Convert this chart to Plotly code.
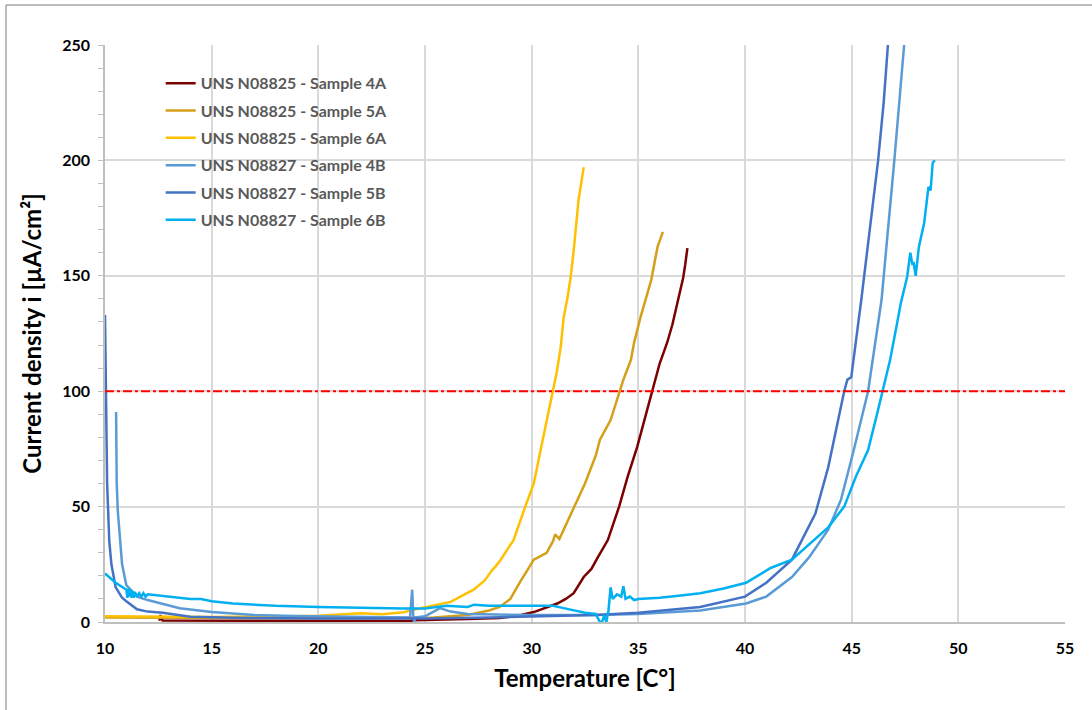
import plotly.graph_objects as go

# ---------------- data ----------------
names = ["UNS N08825 - Sample 4A", "UNS N08825 - Sample 5A", "UNS N08825 - Sample 6A",
         "UNS N08827 - Sample 4B", "UNS N08827 - Sample 5B", "UNS N08827 - Sample 6B"]
colors = ["#7B0000", "#D4A017", "#FFC000", "#5B9BD5", "#4472C4", "#00B0F0"]

t_4a = [12.55, 12.6, 12.7, 15, 18, 21.7, 24.3, 24.5, 25.9, 27, 28.5, 29.5, 30.1, 30.6, 31.2, 31.6,
        31.97, 32.44, 32.8, 33.1, 33.57, 34.1, 34.5, 34.95, 35.4, 35.65, 36.0, 36.35, 36.6, 36.86,
        37.1, 37.2, 37.3]
i_4a = [0.5, 3, 0.6, 0.6, 0.5, 0.4, 0.4, 0.8, 1, 1.3, 1.7, 3, 4.3, 6, 8, 10,
        12.5, 19.5, 23, 28, 35.5, 50, 63, 76, 92, 100, 112, 121, 129, 140,
        149, 155, 162]

t_5a = [10, 15, 20, 25.4, 27, 28, 28.5, 29, 29.15, 29.5, 29.8, 30.1, 30.5, 30.7, 31, 31.1, 31.3,
        31.5, 32, 32.5, 33, 33.2, 33.7, 34.1, 34.3, 34.65, 34.8, 35.1, 35.45, 35.6, 35.9, 36.15]
i_5a = [2, 1.8, 1.6, 2, 3, 5, 6.5, 10, 12.5, 18, 22.5, 27, 29, 30, 35, 38, 36,
        40, 50, 60, 72, 79, 87.5, 99, 105, 113.5, 121, 132, 142.5, 148, 162.5, 169]

t_6a = [10, 12, 15, 18, 20, 21, 22, 23, 24, 24.8, 26.2, 27.28, 27.8, 28.15, 28.3, 28.55, 29.15,
        29.7, 30.1, 30.42, 30.75, 30.98, 31.17, 31.36, 31.5, 31.69, 31.83, 31.97, 32.06, 32.2, 32.44]
i_6a = [2.5, 2.3, 2.2, 2.4, 2.7, 3.2, 3.8, 3.4, 4.2, 6, 8.7, 14, 18, 22.5, 24, 27, 35.5,
        50, 60, 74.5, 89, 100.5, 108, 119, 132, 141, 149.5, 161, 171, 183, 197]

t_4b = [10.52, 10.55, 10.6, 10.7, 10.8, 11.0, 11.5, 12, 12.7, 13.5, 15, 17, 18.9, 22, 24.3, 24.4,
        24.45, 24.5, 24.55, 25, 25.7, 26.2, 27, 30, 33, 35, 37.9, 40.05, 41, 42.2, 43, 43.9,
        44.5, 45.1, 45.77, 46.4, 47.0, 47.46]
i_4b = [91, 60, 48, 35, 25, 16, 11, 9.5, 8, 6, 4.3, 3, 2.6, 2.2, 2, 14,
        2, 0, 2, 2.5, 6, 4.5, 3.5, 3, 3, 3.5, 5, 8, 11, 19.5, 28, 40,
        53, 74.5, 100, 139.5, 200, 250]

t_5b = [10, 10.05, 10.1, 10.2, 10.3, 10.5, 10.8, 11, 11.5, 12, 12.7, 14, 16, 20, 25, 28, 30, 33,
        35, 37.9, 40, 41, 42.2, 43.3, 43.9, 44.3, 44.65, 44.8, 44.98, 45.45, 45.9, 46.24, 46.5, 46.7]
i_5b = [133, 90, 60, 35, 25, 15, 10.5, 9, 5.5, 4.5, 4, 2.3, 1.8, 1.5, 1.5, 2, 2.5, 3,
        4, 6.5, 11, 17, 27, 47, 67, 85, 100, 105, 106, 139.5, 175, 200, 225, 250]

t_6b = [10, 10.5, 11.0, 11.05, 11.1, 11.15, 11.2, 11.25, 11.3, 11.35, 11.4, 11.5, 11.6, 11.7,
        11.8, 11.9, 12.0, 13, 14, 14.5, 15, 16, 17, 18, 20, 22, 24, 25, 25.5, 26, 27, 27.3, 28,
        30, 31, 31.5, 32, 32.5, 33, 33.2, 33.3, 33.4, 33.5, 33.6, 33.7, 33.8, 34, 34.2, 34.3,
        34.4, 34.6, 34.8, 35, 36, 37, 37.9, 39, 40.05, 41.2, 42.2, 43.9, 44.65, 45.2, 45.77,
        46.2, 46.5, 46.8, 47.1, 47.3, 47.6, 47.75, 47.85, 47.9, 48.0, 48.15, 48.4, 48.6, 48.7,
        48.8, 48.9]
i_6b = [21, 17, 14, 10.5, 14.5, 11, 14, 10.5, 13.5, 10.5, 13, 11, 12.5, 11,
        12.5, 11, 12, 11, 10, 10, 9, 8, 7.5, 7, 6.5, 6, 5.8, 5.8, 6.5, 7, 6.5, 7.5, 7,
        7, 7, 6, 5, 4, 3.5, 0, 0, 3, 0, 5, 15, 10, 12, 11, 15.5,
        10, 11, 9.5, 10, 10.5, 11.5, 12.5, 14.5, 17, 23.4, 27, 41, 50, 63, 74.5,
        90.5, 102, 113.5, 128, 138, 149.5, 160, 154.7, 156, 150, 162.5, 173, 188.5, 187,
        199, 200]

series_t = [t_4a, t_5a, t_6a, t_4b, t_5b, t_6b]
series_i = [i_4a, i_5a, i_6a, i_4b, i_5b, i_6b]

x_ticks = [10, 15, 20, 25, 30, 35, 40, 45, 50, 55]
y_ticks = [0, 50, 100, 150, 200, 250]
threshold = 100

# ---------------- figure ----------------
fig = go.Figure()
for n, c, tx, iy in zip(names, colors, series_t, series_i):
    fig.add_trace(go.Scatter(x=tx, y=iy, mode="lines", name=n, legendgroup=n,
                             line=dict(color=c, width=2.5)))

fig.add_shape(type="line", xref="paper", yref="y", x0=0, x1=1, y0=threshold, y1=threshold,
              line=dict(color="#FF0000", width=2, dash="dashdot"))

# outer chart frame
fig.add_shape(type="line", xref="paper", yref="paper", x0=-0.1031, x1=1.03, y0=1.0693, y1=1.0693,
              line=dict(color="#A6A6A6", width=1.5))
fig.add_shape(type="line", xref="paper", yref="paper", x0=-0.1031, x1=-0.1031, y0=1.0693, y1=-0.16,
              line=dict(color="#A6A6A6", width=1.5))

font_family = "Lato, 'Open Sans', sans-serif"
fig.update_layout(
    width=1092, height=710,
    margin=dict(l=105, r=27, t=45, b=88),
    paper_bgcolor="white", plot_bgcolor="white",
    font=dict(family=font_family, color="#000000"),
    showlegend=True,
    legend=dict(x=0.058, y=0.963, xanchor="left", yanchor="top", bgcolor="rgba(0,0,0,0)",
                font=dict(size=16, color="#595959", weight="bold"), tracegroupgap=3.5,
                itemwidth=30),
)
fig.update_xaxes(range=[10, 55], tickvals=x_ticks, showgrid=True, gridcolor="#D9D9D9", gridwidth=1.5,
                 showline=True, linecolor="#BFBFBF", linewidth=1.5, zeroline=False, ticks="",
                 tickfont=dict(size=16, weight="bold"), ticklabelstandoff=11,
                 title=dict(text="Temperature [C°]", font=dict(size=24, weight="bold"), standoff=14))
fig.update_yaxes(range=[0, 250], tickvals=y_ticks, showgrid=True, gridcolor="#D9D9D9", gridwidth=1.5,
                 showline=True, linecolor="#BFBFBF", linewidth=1.5, zeroline=False, ticks="",
                 tickfont=dict(size=16, weight="bold"), ticklabelstandoff=10,
                 minor=dict(dtick=10, ticks="outside", ticklen=5, tickcolor="#BFBFBF", showgrid=False),
                 title=dict(text="Current density i [µA/cm²]", font=dict(size=24, weight="bold"), standoff=14))

fig.write_html("out.html")
